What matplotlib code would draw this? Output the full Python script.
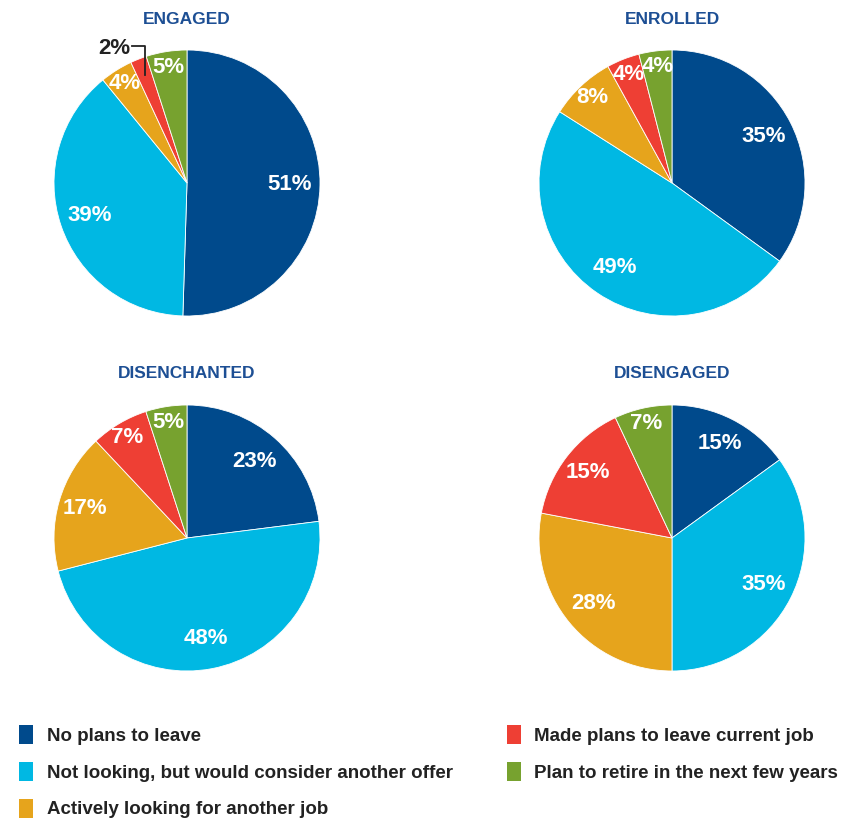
import matplotlib
matplotlib.use("Agg")
import matplotlib.pyplot as plt
import numpy as np
from matplotlib.patches import Patch

categories = [
    "No plans to leave",
    "Not looking, but would consider another offer",
    "Actively looking for another job",
    "Made plans to leave current job",
    "Plan to retire in the next few years",
]
groups = ["ENGAGED", "ENROLLED", "DISENCHANTED", "DISENGAGED"]
engaged = [51, 39, 4, 2, 5]
enrolled = [35, 49, 8, 4, 4]
disenchanted = [23, 48, 17, 7, 5]
disengaged = [15, 35, 28, 15, 7]

colors = ["#004a8c", "#00b8e3", "#e6a41c", "#ee3f34", "#77a22f"]
title_color = "#1d4f94"
font = ["Liberation Sans", "DejaVu Sans"]

fig = plt.figure(figsize=(8.47, 8.25), dpi=100)
W, H = 847, 825
R = 133
centers = [(187, 183), (672, 183), (187, 538), (672, 538)]
all_values = [engaged, enrolled, disenchanted, disengaged]

for name, values, (cx, cy) in zip(groups, all_values, centers):
    ax = fig.add_axes([(cx - R) / W, 1 - (cy + R) / H, 2 * R / W, 2 * R / H])
    wedges, _ = ax.pie(values, colors=colors, startangle=90, counterclock=False,
                       wedgeprops=dict(edgecolor="white", linewidth=0.6))
    ax.set_xlim(-1, 1)
    ax.set_ylim(-1, 1)
    ax.set_aspect("equal")
    for w, v in zip(wedges, values):
        ang = np.deg2rad((w.theta1 + w.theta2) / 2)
        if name == "ENGAGED" and v == 2:
            # outside label with bracket line
            x0, y0 = 0.87 * np.cos(ang), 0.87 * np.sin(ang)
            ax.plot([x0, x0, x0 - 0.1], [y0, 1.03, 1.03],
                    color="#222222", lw=1.3, clip_on=False)
            ax.text(x0 - 0.11, 1.01, f"{v}%", ha="right", va="center",
                    color="#222222", fontsize=16, fontweight="bold", family=font)
            continue
        d = 0.77 if v >= 20 else (0.8 if v >= 10 else 0.88)
        ax.text(d * np.cos(ang), d * np.sin(ang), f"{v}%", ha="center",
                va="center", color="white", fontsize=16, fontweight="bold",
                family=font)
    fig.text(cx / W, 1 - (cy - 164) / H, name, ha="center", va="center",
             color=title_color, fontsize=12.5, fontweight="bold", family=font)

handles = [Patch(facecolor=c, edgecolor="none") for c in colors]
leg_kw = dict(loc="upper left", frameon=False, handlelength=0.75, handleheight=1.2,
              handletextpad=0.7, labelspacing=0.9,
              prop=dict(weight="bold", size=13.5, family=font),
              labelcolor="#222222")
leg1 = fig.legend(handles[:3], categories[:3],
                  bbox_to_anchor=(0.003, 1 - 708 / H), **leg_kw)
leg2 = fig.legend(handles[3:], categories[3:],
                  bbox_to_anchor=(0.579, 1 - 708 / H), **leg_kw)

fig.savefig("out.png", dpi=100, facecolor="white")
